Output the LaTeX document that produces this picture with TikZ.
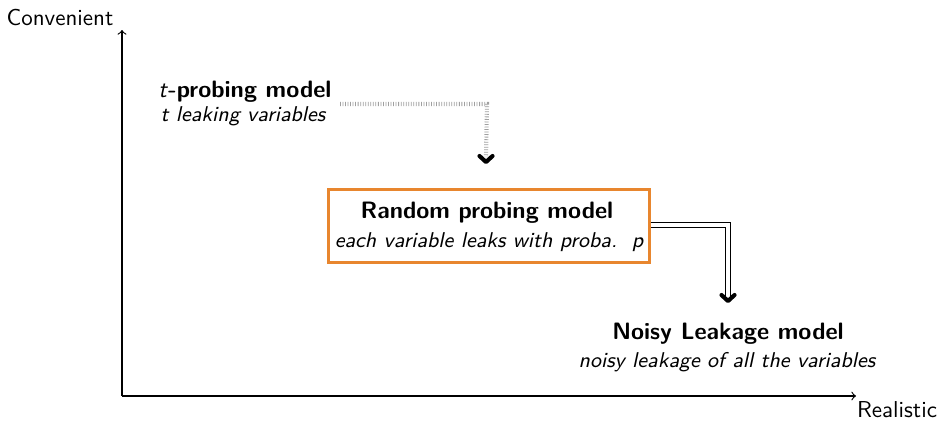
\documentclass[tikz,border=0pt]{standalone}
\usetikzlibrary{calc}
\definecolor{boxorange}{RGB}{232,134,46}
\begin{document}
\begin{tikzpicture}[x=0.4346pt,y=-0.4346pt,font=\sffamily,
  axis/.style={line width=0.5pt,->,>=to},
  title/.style={font=\fontsize{10.3}{12}\sffamily\bfseries,inner sep=0pt},
  sub/.style={font=\fontsize{9.3}{11}\sffamily\itshape,inner sep=0pt},
  dots/.style={gray!75,line width=1.8pt,dash pattern=on 0.35pt off 0.75pt},
  dbl/.style={double=white,draw=black,line width=0.45pt,double distance=1.6pt},
  chevron/.style={line width=1.8pt,line cap=round,line join=round}]
\useasboundingbox (0,0) rectangle (941,422);

% axes
\coordinate (o) at (122,396);
\coordinate (ytop) at (122,30);
\coordinate (xend) at (856,396);
\draw[axis] (o) -- (ytop);
\draw[axis] (o) -- (xend);
\node (conv) at (60,17) {Convenient};
\node (real) at (897,410) {Realistic};

% t-probing model
\node[title] (tp) at (245,92) {\textmd{\textit{t}}-probing model};
\node[sub] (tps) at (243,116) {t leaking variables};

% random probing model
\node[draw=boxorange,line width=1.3pt,minimum width=321*0.4346pt,minimum height=73*0.4346pt] (rpbox) at (488.5,225.5) {};
\node[title] (rp) at (487,213) {Random probing model};
\node[sub] (rps) at (489,242) {each variable leaks with proba.\ \ p};

% noisy leakage model
\node[title] (nl) at (728,334) {Noisy Leakage model};
\node[sub] (nls) at (727,362) {noisy leakage of all the variables};

% dotted connector
\coordinate (c1) at (487,104);
\coordinate (tip1) at (486,162);
\draw[dots] (340,104) -- (c1) -- ($(tip1)+(0,-5)$);
\draw[chevron] ($(tip1)+(-6.5,-6)$) -- (tip1) -- ($(tip1)+(6.5,-6)$);

% double connector
\coordinate (tip2) at (728,301);
\draw[dbl] (rpbox.east |- 0,225) -| ($(tip2)+(0,-4)$);
\draw[chevron] ($(tip2)+(-6.5,-6)$) -- (tip2) -- ($(tip2)+(6.5,-6)$);
\end{tikzpicture}
\end{document}
